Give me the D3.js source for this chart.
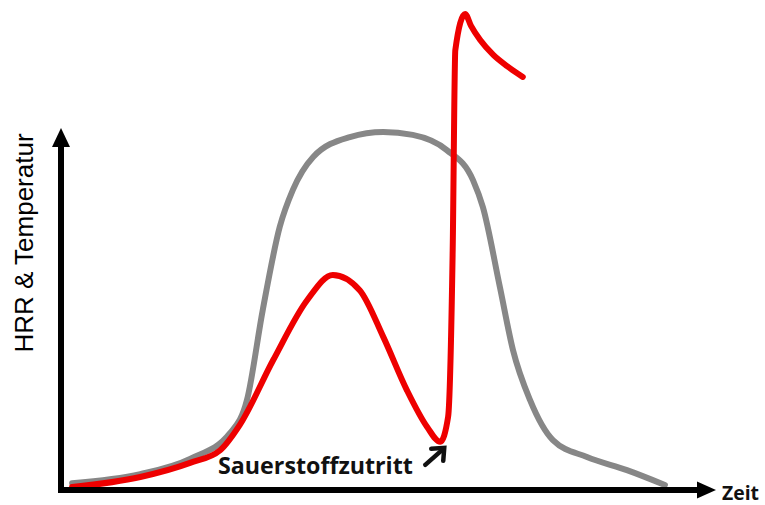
<!DOCTYPE html>
<html>
<head>
<meta charset="utf-8">
<script src="https://cdn.jsdelivr.net/npm/d3@7"></script>
<style>
  html, body { margin: 0; padding: 0; background: #fff; }
  svg { display: block; }
</style>
</head>
<body>
<svg id="chart" width="765" height="505"></svg>
<script>
// Temperature (gray) – time and value in arbitrary units
const tempTime  = [1.7, 12.1, 19.7, 25.8, 28.4, 30.8, 33.4, 35.4, 38.5, 44.1, 49.2, 53.7, 58.9, 62.9, 64.4, 67.0, 69.0, 71.6, 75.1, 80.3, 86.4, 92.2];
const tempValue = [1.9, 4.4, 8.6, 15.7, 24.9, 49.7, 72.7, 82.9, 92.0, 97.5, 98.9, 98.1, 93.9, 85.6, 78.2, 56.1, 38.7, 24.9, 13.8, 9.1, 5.5, 1.4];

// HRR (red)
const hrrTime  = [1.7, 12.1, 19.7, 24.3, 27.3, 32.4, 37.6, 41.5, 45.6, 49.2, 52.8, 55.9, 57.9, 59.1, 59.8, 60.2, 61.7, 62.6, 64.0, 66.0, 68.1, 70.5];
const hrrValue = [0.8, 3.6, 7.5, 11.0, 18.0, 35.9, 52.5, 59.4, 55.2, 42.3, 27.6, 17.4, 13.3, 20.2, 66.3, 121.5, 131.5, 128.2, 124.3, 120.2, 117.1, 114.1];

const yAxisLabel = "HRR & Temperatur";
const xAxisLabel = "Zeit";
const annotationText = "Sauerstoffzutritt";
const annotationPoint = [57.9, 13.3];

const svg = d3.select("#chart");
const x = d3.scaleLinear().domain([0, 100]).range([61, 716]);
const y = d3.scaleLinear().domain([0, 100]).range([490, 128]);

const line = d3.line()
  .x(d => x(d[0])).y(d => y(d[1]))
  .curve(d3.curveMonotoneX);

const tempData = tempTime.map((t, i) => [t, tempValue[i]]);
const hrrData = hrrTime.map((t, i) => [t, hrrValue[i]]);

// Curves
svg.append("path").attr("d", line(tempData))
  .attr("fill", "none").attr("stroke", "#878787").attr("stroke-width", 6)
  .attr("stroke-linecap", "round").attr("stroke-linejoin", "round");
svg.append("path").attr("d", line(hrrData))
  .attr("fill", "none").attr("stroke", "#ee0000").attr("stroke-width", 6)
  .attr("stroke-linecap", "round").attr("stroke-linejoin", "round");

// Axes
const x0 = x(0), y0 = y(0), xEnd = x(100), yEnd = y(100);
svg.append("line").attr("x1", x0).attr("y1", y0 + 3).attr("x2", x0).attr("y2", yEnd + 16)
  .attr("stroke", "#000").attr("stroke-width", 6);
svg.append("line").attr("x1", x0 - 3).attr("y1", y0).attr("x2", xEnd - 16).attr("y2", y0)
  .attr("stroke", "#000").attr("stroke-width", 6);
svg.append("path")
  .attr("d", `M${x0},${yEnd} L${x0 + 9},${yEnd + 19} L${x0 - 9},${yEnd + 19} Z`)
  .attr("fill", "#000");
svg.append("path")
  .attr("d", `M${xEnd},${y0} L${xEnd - 19},${y0 - 8.5} L${xEnd - 19},${y0 + 8.5} Z`)
  .attr("fill", "#000");

// Axis labels
svg.append("text")
  .attr("transform", `translate(33,243) rotate(-90)`)
  .attr("text-anchor", "middle")
  .attr("font-family", "'Liberation Sans', Arial, sans-serif")
  .attr("font-size", 26)
  .attr("fill", "#000")
  .text(yAxisLabel);

const zeit = svg.append("text")
  .attr("x", 722).attr("y", 500)
  .attr("font-family", "'Open Sans', sans-serif")
  .attr("font-weight", "bold")
  .attr("font-size", 18)
  .attr("fill", "#111")
  .text(xAxisLabel);
{
  const w = zeit.node().getComputedTextLength();
  zeit.attr("font-size", 18 * 37 / w);
}

// Annotation
const ann = svg.append("text")
  .attr("x", 218).attr("y", 474)
  .attr("font-family", "'Open Sans', sans-serif")
  .attr("font-weight", "bold")
  .attr("font-size", 22)
  .attr("fill", "#111")
  .text(annotationText);
{
  const w = ann.node().getComputedTextLength();
  ann.attr("font-size", 22 * 195 / w);
}

// Annotation arrow
const ax = x(annotationPoint[0]) + 4, ay = y(annotationPoint[1]) + 6;
svg.append("line")
  .attr("x1", ax - 19).attr("y1", ay + 17).attr("x2", ax - 2).attr("y2", ay + 2)
  .attr("stroke", "#111").attr("stroke-width", 4.5).attr("stroke-linecap", "round");
svg.append("path")
  .attr("d", `M${ax - 13},${ay + 1} L${ax},${ay} L${ax - 1},${ay + 13}`)
  .attr("fill", "none").attr("stroke", "#111").attr("stroke-width", 4.5)
  .attr("stroke-linecap", "round").attr("stroke-linejoin", "miter");
</script>
</body>
</html>
